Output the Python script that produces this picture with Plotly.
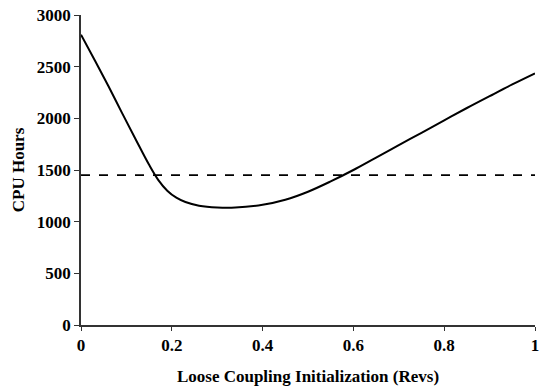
import plotly.graph_objects as go

x_revs = [0.0, 0.03, 0.06, 0.09, 0.12, 0.15, 0.17, 0.19, 0.21, 0.23, 0.26, 0.3, 0.34,
          0.4, 0.45, 0.5, 0.55, 0.6, 0.65, 0.7, 0.75, 0.8, 0.85, 0.9, 0.95, 1.0]
cpu_hours = [2810, 2565, 2315, 2055, 1800, 1550, 1405, 1300, 1232, 1190, 1155, 1137, 1136,
             1163, 1212, 1290, 1390, 1500, 1620, 1740, 1860, 1980, 2100, 2215, 2328, 2435]
baseline_x = [0.0, 1.0]
baseline_y = [1450, 1450]

x_ticks = [0, 0.2, 0.4, 0.6, 0.8, 1]
x_tick_text = ["0", "0.2", "0.4", "0.6", "0.8", "1"]
y_ticks = [0, 500, 1000, 1500, 2000, 2500, 3000]

FS = 17
tfont = dict(family="Liberation Serif", size=FS, color="black", weight="bold")

fig = go.Figure()
fig.add_trace(go.Scatter(x=x_revs, y=cpu_hours, mode="lines",
                         line=dict(color="black", width=2, shape="spline", smoothing=1.0),
                         showlegend=False, hoverinfo="skip"))
fig.add_trace(go.Scatter(x=baseline_x, y=baseline_y, mode="lines",
                         line=dict(color="black", width=1.8, dash="dash"),
                         showlegend=False, hoverinfo="skip"))

fig.update_layout(
    width=546, height=390,
    margin=dict(l=81, r=11, t=15, b=65),
    paper_bgcolor="white", plot_bgcolor="white",
    font=dict(family="Liberation Serif", size=FS, color="black"),
)
fig.update_xaxes(range=[0, 1], tickvals=x_ticks, ticktext=x_tick_text, automargin=False,
                 showgrid=False, zeroline=False, showline=True, linecolor="#333",
                 linewidth=1.5, ticks="outside", ticklen=4, tickcolor="#333",
                 tickfont=tfont,
                 title=dict(text="<b>Loose Coupling Initialization (Revs)</b>", standoff=16,
                            font=dict(family="Liberation Serif", size=FS, color="black")))
fig.update_yaxes(range=[0, 3000], tickvals=y_ticks, automargin=False,
                 showgrid=False, zeroline=False, showline=True, linecolor="#333",
                 linewidth=1.5, ticks="outside", ticklen=5, tickcolor="#333",
                 tickfont=tfont,
                 title=dict(text="<b>CPU Hours</b>", standoff=8,
                            font=dict(family="Liberation Serif", size=FS, color="black")))

fig.write_html("out.html")
